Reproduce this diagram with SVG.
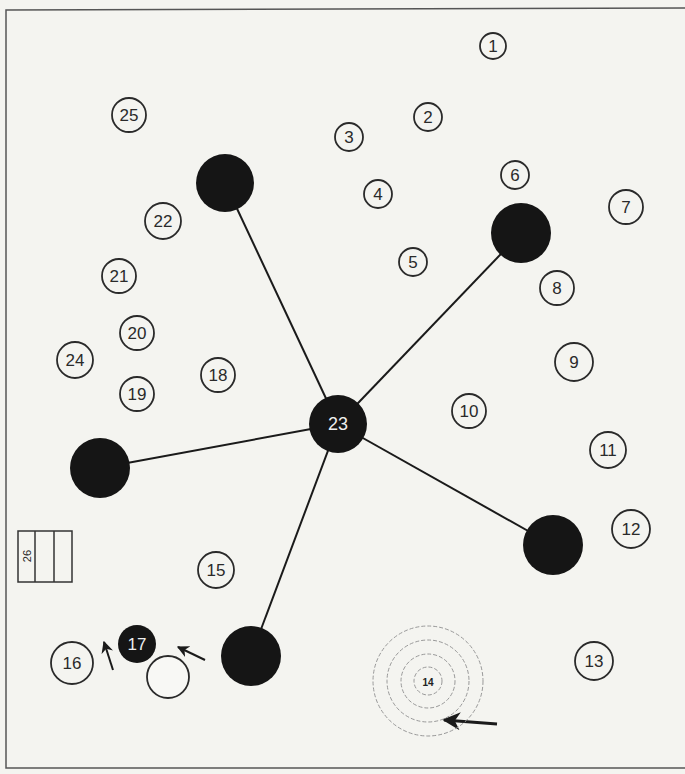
<svg xmlns="http://www.w3.org/2000/svg" width="685" height="774" viewBox="0 0 685 774">
<defs>
<style>
.c{fill:none;stroke:#2a2a2a;stroke-width:1.8}
.b{fill:#151515}
.t{font-family:"Liberation Sans",Arial,sans-serif;font-size:17px;fill:#2a2a2a;text-anchor:middle;dominant-baseline:central}
.w{fill:#eee}
.ring{fill:none;stroke:#999;stroke-width:1;stroke-dasharray:4 2}
.ln{stroke:#1a1a1a;stroke-width:2}
.ar{stroke:#1a1a1a;stroke-width:2;fill:none}
</style>
<marker id="ah" viewBox="0 0 10 10" refX="9" refY="5" markerWidth="6" markerHeight="6" orient="auto"><path d="M0,0 L10,5 L0,10 L3,5 z" fill="#1a1a1a"/></marker>
</defs>
<rect width="685" height="774" fill="#f4f4f0"/>
<path d="M685,8 L6,10 L6,768 L685,768" fill="none" stroke="#555" stroke-width="1.5"/>
<g id="connectors">
<line class="ln" x1="338" y1="424" x2="225" y2="183"/>
<line class="ln" x1="338" y1="424" x2="521" y2="233"/>
<line class="ln" x1="338" y1="424" x2="100" y2="468"/>
<line class="ln" x1="338" y1="424" x2="553" y2="545"/>
<line class="ln" x1="338" y1="424" x2="251" y2="656"/>
<line class="ar" x1="113" y1="670" x2="104" y2="642" marker-end="url(#ah)"/>
<line class="ar" x1="205" y1="660" x2="178" y2="647" marker-end="url(#ah)"/>
<line class="ar" x1="497" y1="724" x2="444" y2="720" marker-end="url(#ah)" style="stroke-width:3"/>
</g>
<g id="n1"><circle class="c" cx="493" cy="46" r="13"/><text class="t" x="493" y="46">1</text></g>
<g id="n2"><circle class="c" cx="428" cy="117" r="14"/><text class="t" x="428" y="117">2</text></g>
<g id="n3"><circle class="c" cx="349" cy="137" r="14"/><text class="t" x="349" y="137">3</text></g>
<g id="n4"><circle class="c" cx="378" cy="194" r="14"/><text class="t" x="378" y="194">4</text></g>
<g id="n5"><circle class="c" cx="413" cy="262" r="14"/><text class="t" x="413" y="262">5</text></g>
<g id="n6"><circle class="c" cx="515" cy="175" r="14"/><text class="t" x="515" y="175">6</text></g>
<g id="n7"><circle class="c" cx="626" cy="207" r="17"/><text class="t" x="626" y="207">7</text></g>
<g id="n8"><circle class="c" cx="557" cy="288" r="17"/><text class="t" x="557" y="288">8</text></g>
<g id="n9"><circle class="c" cx="574" cy="362" r="19"/><text class="t" x="574" y="362">9</text></g>
<g id="n10"><circle class="c" cx="469" cy="411" r="17"/><text class="t" x="469" y="411">10</text></g>
<g id="n11"><circle class="c" cx="608" cy="450" r="18"/><text class="t" x="608" y="450">11</text></g>
<g id="n12"><circle class="c" cx="631" cy="529" r="19"/><text class="t" x="631" y="529">12</text></g>
<g id="n13"><circle class="c" cx="594" cy="661" r="19"/><text class="t" x="594" y="661">13</text></g>
<g id="n14">
<circle class="ring" cx="428" cy="681" r="14"/>
<circle class="ring" cx="428" cy="681" r="27"/>
<circle class="ring" cx="428" cy="681" r="41"/>
<circle class="ring" cx="428" cy="681" r="55"/>
<text class="t" x="428" y="682" style="font-size:10px;font-weight:bold;fill:#222">14</text></g>
<g id="n15"><circle class="c" cx="216" cy="570" r="18"/><text class="t" x="216" y="570">15</text></g>
<g id="n16"><circle class="c" cx="72" cy="663" r="21"/><text class="t" x="72" y="663">16</text></g>
<g id="n17"><circle class="b" cx="137" cy="644" r="19"/><text class="t w" x="137" y="644">17</text></g>
<g id="open"><circle class="c" cx="168" cy="677" r="21" style="fill:#f8f8f5"/></g>
<g id="n18"><circle class="c" cx="218" cy="375" r="17"/><text class="t" x="218" y="375">18</text></g>
<g id="n19"><circle class="c" cx="137" cy="394" r="17"/><text class="t" x="137" y="394">19</text></g>
<g id="n20"><circle class="c" cx="137" cy="333" r="17"/><text class="t" x="137" y="333">20</text></g>
<g id="n21"><circle class="c" cx="119" cy="276" r="17"/><text class="t" x="119" y="276">21</text></g>
<g id="n22"><circle class="c" cx="163" cy="221" r="18"/><text class="t" x="163" y="221">22</text></g>
<g id="n24"><circle class="c" cx="75" cy="360" r="18"/><text class="t" x="75" y="360">24</text></g>
<g id="n25"><circle class="c" cx="129" cy="115" r="17"/><text class="t" x="129" y="115">25</text></g>
<g id="n23"><circle class="b" cx="338" cy="424" r="29"/><text class="t w" x="338" y="424" style="font-size:18px">23</text></g>
<g id="p1"><circle class="b" cx="225" cy="183" r="29"/></g>
<g id="p2"><circle class="b" cx="521" cy="233" r="30"/></g>
<g id="p3"><circle class="b" cx="100" cy="468" r="30"/></g>
<g id="p4"><circle class="b" cx="553" cy="545" r="30"/></g>
<g id="p5"><circle class="b" cx="251" cy="656" r="30"/></g>
<g id="n26">
<rect x="18" y="531" width="54" height="51" fill="none" stroke="#333" stroke-width="1.5"/>
<line x1="35" y1="531" x2="35" y2="582" stroke="#333" stroke-width="1.5"/>
<line x1="54" y1="531" x2="54" y2="582" stroke="#333" stroke-width="1.5"/>
<text class="t" x="27" y="556" style="font-size:11px" transform="rotate(-90 27 556)">26</text>
</g>
</svg>
